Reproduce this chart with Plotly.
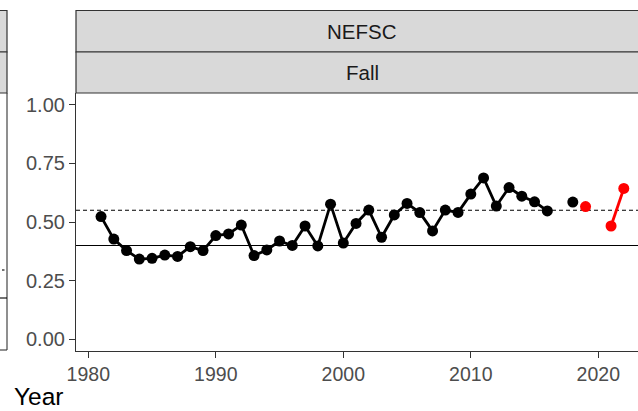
import plotly.graph_objects as go

# ---- data ----
years_obs = list(range(1981, 2017)) + [2017, 2018]
vals_obs = [0.523, 0.427, 0.378, 0.342, 0.345, 0.359, 0.353, 0.395, 0.378, 0.442,
            0.449, 0.487, 0.357, 0.381, 0.419, 0.400, 0.483, 0.398, 0.576, 0.410,
            0.494, 0.551, 0.435, 0.530, 0.579, 0.540, 0.462, 0.551, 0.541, 0.619,
            0.688, 0.568, 0.647, 0.610, 0.586, 0.547, None, 0.585]
years_recent = [2019, 2020, 2021, 2022]
vals_recent = [0.566, None, 0.483, 0.643]
ref_solid = 0.40
ref_dashed = 0.55
y_ticks = [0.00, 0.25, 0.50, 0.75, 1.00]
y_tick_labels = ["0.00", "0.25", "0.50", "0.75", "1.00"]
x_ticks = [1980, 1990, 2000, 2010, 2020]
strip_top = "NEFSC"
strip_bottom = "Fall"
x_title = "Year"

W, H = 638, 411
L, R, T, B = 76, 0, 93, 60
pw, ph = W - L - R, H - T - B

def px(x):
    return (x - L) / pw

def py(y):
    return (H - B - y) / ph

fig = go.Figure()
fig.add_trace(go.Scatter(x=years_obs, y=vals_obs, mode="lines+markers",
                         line=dict(color="black", width=2.8),
                         marker=dict(color="black", size=11),
                         connectgaps=False, showlegend=False, cliponaxis=False))
fig.add_trace(go.Scatter(x=years_recent, y=vals_recent, mode="lines+markers",
                         line=dict(color="#FF0000", width=2.8),
                         marker=dict(color="#FF0000", size=11),
                         connectgaps=False, showlegend=False, cliponaxis=False))

shapes = []
# reference lines
shapes.append(dict(type="line", xref="paper", x0=0, x1=1, yref="y", y0=ref_solid, y1=ref_solid,
                   line=dict(color="black", width=1.1), layer="below"))
shapes.append(dict(type="line", xref="paper", x0=0, x1=1, yref="y", y0=ref_dashed, y1=ref_dashed,
                   line=dict(color="black", width=1.1, dash="4px,3px"), layer="below"))
# strips for main panel
grey = "#D9D9D9"
border = "#333333"
for (a, b) in [(10.5, 52), (52, 93)]:
    shapes.append(dict(type="rect", xref="paper", yref="paper",
                       x0=0, x1=1.02, y0=py(b), y1=py(a),
                       fillcolor=grey, line=dict(color=border, width=1.2), layer="above"))
# left neighbouring panel fragment
for (a, b) in [(10.5, 52), (52, 93)]:
    shapes.append(dict(type="rect", xref="paper", yref="paper",
                       x0=px(-5), x1=px(7), y0=py(b), y1=py(a),
                       fillcolor=grey, line=dict(color=border, width=1.2), layer="above"))
shapes.append(dict(type="line", xref="paper", yref="paper", x0=px(7), x1=px(7), y0=py(350), y1=py(93),
                   line=dict(color="#333333", width=1.1)))
shapes.append(dict(type="line", xref="paper", yref="paper", x0=px(-2), x1=px(7), y0=py(350), y1=py(350),
                   line=dict(color="#333333", width=1.1)))
shapes.append(dict(type="line", xref="paper", yref="paper", x0=px(-2), x1=px(7), y0=py(298), y1=py(298),
                   line=dict(color="black", width=1.1)))
shapes.append(dict(type="line", xref="paper", yref="paper", x0=px(2), x1=px(4.5), y0=py(270), y1=py(270),
                   line=dict(color="black", width=1.1)))

annotations = [
    dict(text=strip_top, xref="paper", yref="paper", x=px(362), y=py(31),
         showarrow=False, font=dict(size=20.5, color="#1A1A1A"), xanchor="center", yanchor="middle"),
    dict(text=strip_bottom, xref="paper", yref="paper", x=px(362), y=py(72.5),
         showarrow=False, font=dict(size=20.5, color="#1A1A1A"), xanchor="center", yanchor="middle"),
    dict(text=x_title, xref="paper", yref="paper", x=px(13), y=py(396),
         showarrow=False, font=dict(size=24.5, color="black"), xanchor="left", yanchor="middle",
         borderpad=0),
]

fig.update_layout(
    width=W, height=H,
    margin=dict(l=L, r=R, t=T, b=B, pad=0),
    paper_bgcolor="white", plot_bgcolor="white",
    font=dict(family="Liberation Sans, Arial, sans-serif"),
    shapes=shapes, annotations=annotations,
    xaxis=dict(range=[1980 - 12.3 / 12.75, 1980 + 549.7 / 12.75], tickvals=x_ticks,
               ticktext=[str(v) for v in x_ticks],
               showgrid=False, zeroline=False, showline=True, linecolor="#333333", linewidth=1.1,
               ticks="outside", ticklen=6, tickwidth=1.1, tickcolor="#333333",
               tickfont=dict(size=19.5, color="#4D4D4D")),
    yaxis=dict(range=[-0.05, 1.05], tickvals=y_ticks, ticktext=y_tick_labels,
               showgrid=False, zeroline=False, showline=True, linecolor="#333333", linewidth=1.1,
               ticks="outside", ticklen=6, tickwidth=1.1, tickcolor="#333333",
               tickfont=dict(size=20, color="#4D4D4D")),
)

fig.write_html("out.html", config={"displayModeBar": False},
               post_script="document.body.style.margin='0';document.body.style.overflow='hidden';")
